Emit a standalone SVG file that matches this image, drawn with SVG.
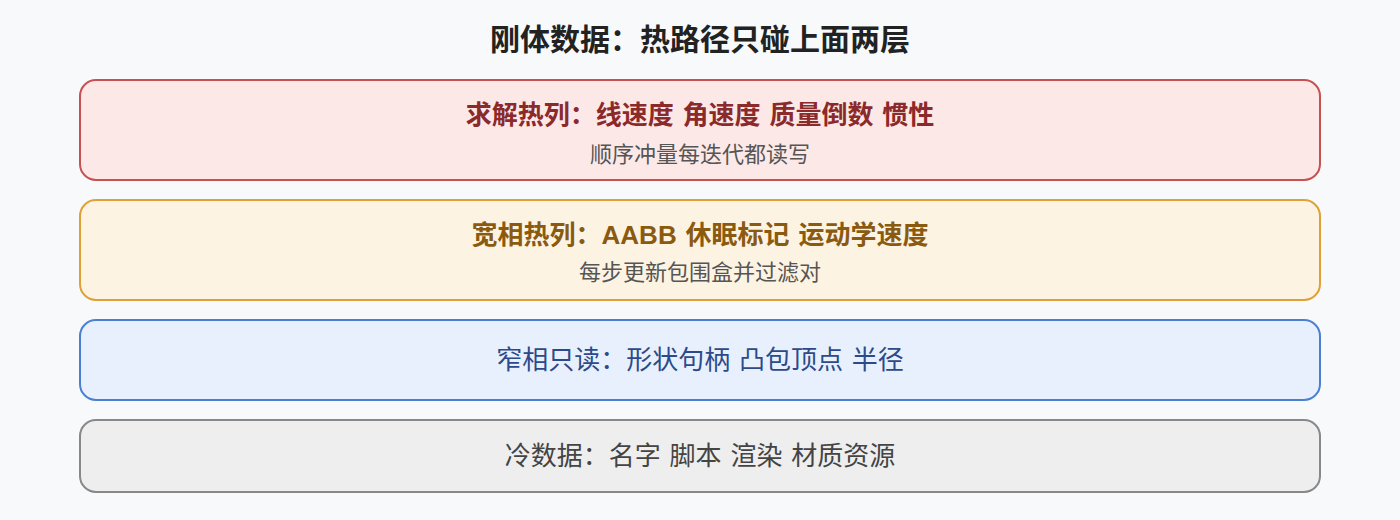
<svg xmlns="http://www.w3.org/2000/svg" width="1400" height="520" viewBox="0 0 1400 520">
<style>
text{font-family:"Noto Sans CJK SC","Noto Sans",sans-serif;text-anchor:middle}
.t{font-size:30px;font-weight:bold;fill:#222}
.h{font-size:26px;font-weight:bold;word-spacing:3px}
.s{font-size:22px;fill:#555}
.m{font-size:26px;word-spacing:3px}
.box{stroke-width:2}
</style>
<rect width="1400" height="520" fill="#f7f9fb"/>
<text class="t" x="700" y="50">刚体数据：热路径只碰上面两层</text>
<g id="solver">
<rect class="box" x="80" y="80" width="1240" height="100" rx="16" fill="#fde8e8" stroke="#c85050"/>
<text class="h" x="700" y="124" fill="#8b2a2a">求解热列：线速度 角速度 质量倒数 惯性</text>
<text class="s" x="700" y="162">顺序冲量每迭代都读写</text>
</g>
<g id="broadphase">
<rect class="box" x="80" y="200" width="1240" height="100" rx="16" fill="#fdf3e3" stroke="#e0a038"/>
<text class="h" x="700" y="244" fill="#8a5a10">宽相热列：<tspan font-family="Liberation Sans,sans-serif">AABB</tspan> 休眠标记 运动学速度</text>
<text class="s" x="700" y="280">每步更新包围盒并过滤对</text>
</g>
<g id="narrowphase">
<rect class="box" x="80" y="320" width="1240" height="80" rx="16" fill="#e8f0fd" stroke="#4a7fd4"/>
<text class="m" x="700" y="369" fill="#2c4a8a">窄相只读：形状句柄 凸包顶点 半径</text>
</g>
<g id="cold">
<rect class="box" x="80" y="420" width="1240" height="72" rx="16" fill="#eeeeee" stroke="#888888"/>
<text class="m" x="700" y="465" fill="#444">冷数据：名字 脚本 渲染 材质资源</text>
</g>
<g id="connectors"/>
</svg>
